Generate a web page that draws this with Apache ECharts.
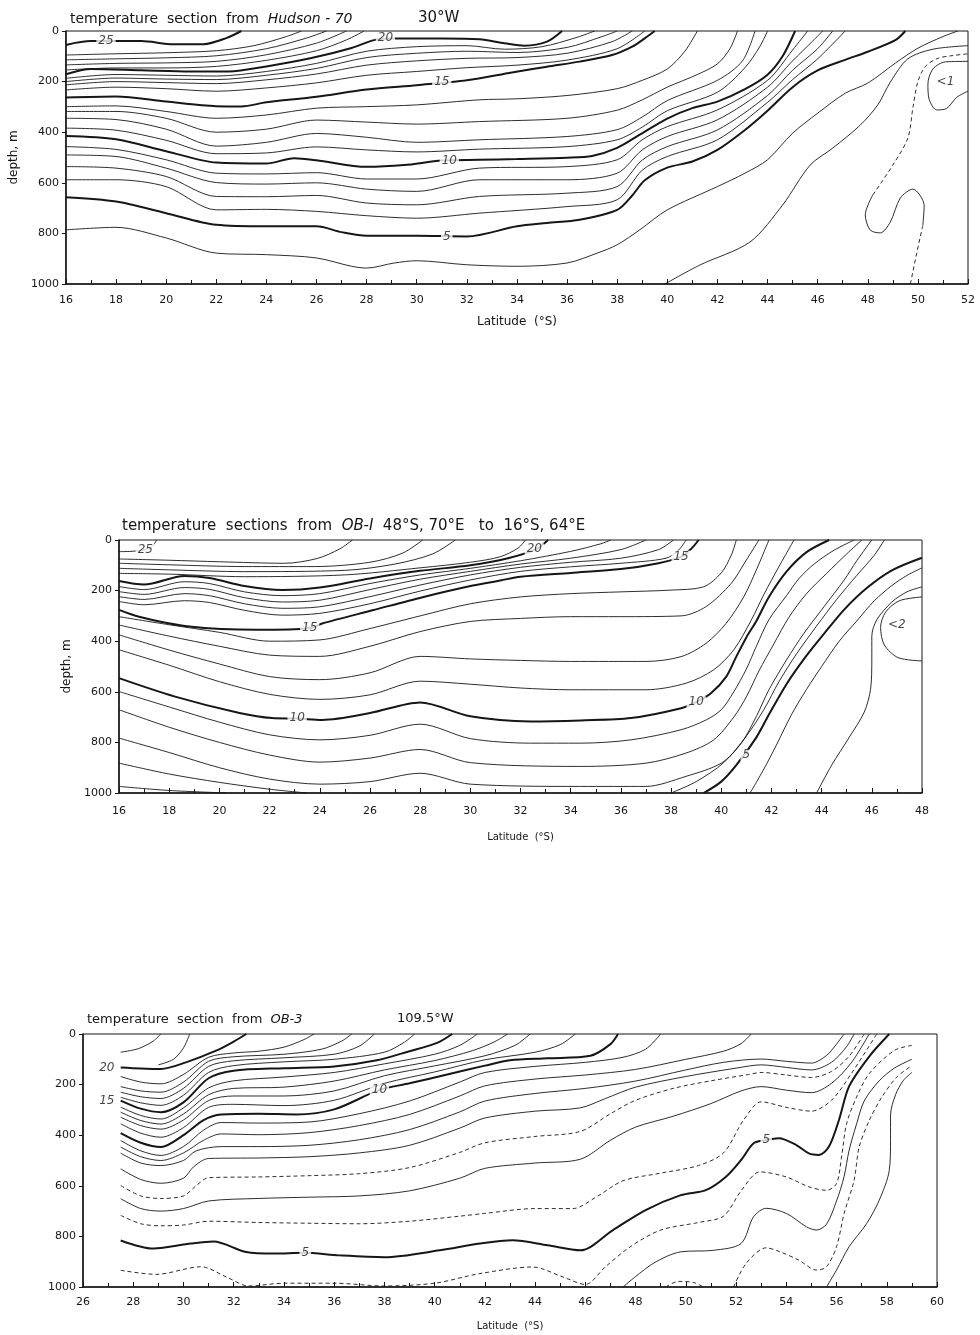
<!DOCTYPE html>
<html>
<head>
<meta charset="utf-8">
<title>temperature sections</title>
<script src="https://cdn.jsdelivr.net/npm/echarts@6/dist/echarts.min.js"></script>
<style>
html, body { margin: 0; padding: 0; background: #fff; }
#chart { width: 980px; height: 1335px; }
</style>
</head>
<body>
<div id="chart"></div>
<script>
// ===== section 1: Hudson-70, 30°W  (lat °S, depth m) =====
const h25 = [[16,55],[17,40],[19,40],[20.3,52],[21.5,52],[22.4,28],[23,0]];
const h24 = [[16,95],[18,90],[20,86],[22,78],[23.5,58],[24.8,22],[25.4,0]];
const h23 = [[16,114],[18,110],[20,106],[22,98],[24,70],[25.6,28],[26.4,0]];
const h22 = [[16,134],[18,128],[20,126],[22,120],[24,94],[26,48],[27.2,0]];
const h21 = [[16,154],[18,146],[20,146],[22,140],[24,116],[26,78],[27.2,35],[27.9,0]];
const h20 = [[16,171],[17,150],[19,155],[21,160],[22.5,160],[24,140],[25.8,107],[27.4,67],[28.3,36],[29,30],[31,30],[32.5,33],[33.5,48],[34.3,58],[35.2,42],[35.8,0]];
const h19 = [[16,187],[18,172],[20,175],[22,178],[24,160],[26,128],[28,80],[30,62],[32,58],[33.5,72],[35,62],[36.4,25],[37.1,0]];
const h18 = [[16,200],[18,186],[20,190],[22,192],[24,175],[26,148],[28,105],[30,88],[32,80],[34,85],[36,65],[37.4,22],[38,0]];
const h17 = [[16,213],[18,200],[20,204],[22,208],[24,193],[26,170],[28,135],[30,118],[32,108],[34,105],[36,88],[37.8,42],[38.6,0]];
const h16 = [[16,233],[18,222],[20,228],[22,238],[24,225],[26,205],[28,175],[30,160],[32,145],[34,135],[36,115],[38,70],[39.1,0]];
const h15 = [[16,263],[18,259],[20,279],[22,297],[23,298],[24,282],[26,260],[28,231],[30,214],[32,195],[33.8,164],[35.2,141],[36.5,121],[37.8,95],[38.6,62],[39.1,29],[39.5,0]];
const h14 = [[16,299],[18,296],[20,318],[22,345],[24,332],[26,305],[28,299],[30,292],[32.5,272],[34,268],[36,255],[38,228],[39,195],[40,150],[40.7,80],[41.2,0]];
const h13 = [[16,318],[18,318],[20,345],[22,400],[24,388],[26,352],[28,360],[30,368],[32.5,358],[36,345],[38,313],[39,272],[40,222],[41.2,172],[42,130],[42.5,70],[42.8,0]];
const h12 = [[16,345],[18,350],[20,388],[22,455],[24,440],[26,405],[28,420],[30,440],[32.5,430],[36,417],[38,390],[39,340],[40,275],[42,195],[43,118],[43.5,0]];
const h11 = [[16,384],[18,392],[20,432],[22,485],[24,482],[26,458],[28,470],[30,478],[32.5,467],[36,457],[38,430],[39,380],[40,315],[42,242],[43.1,145],[43.7,60],[44,0]];
const h10 = [[16,415],[18,428],[20,475],[22,520],[24,524],[25.1,503],[26,511],[28,537],[29.5,530],[31,512],[32.5,509],[34,506],[36,501],[37,494],[38,462],[38.9,410],[40,346],[41,305],[42,279],[43.1,230],[44,173],[44.6,100],[45.1,0]];
const h9 = [[16,457],[18,468],[20,509],[22,562],[24,565],[26,560],[28,585],[30,585],[32.5,542],[36,536],[38,509],[39,430],[40,378],[42,312],[44,195],[45,75],[45.6,0]];
const h8 = [[16,490],[18,496],[20,542],[22,599],[24,605],[26,600],[28,625],[30,634],[32.5,588],[36,588],[38,562],[39,470],[40,417],[42,351],[44,222],[45,118],[45.8,40],[46.2,0]];
const h7 = [[16,536],[18,542],[20,575],[22,654],[24,655],[26,650],[28,680],[30,687],[32.5,654],[36,641],[38,615],[39,510],[40,457],[42,391],[44,255],[45,155],[46,70],[46.6,0]];
const h6 = [[16,588],[18,588],[20,615],[22,707],[24,705],[26,713],[28,730],[30,740],[32.5,720],[36,694],[38,667],[39,550],[40,496],[42,430],[44,282],[45,192],[46,110],[47.1,0]];
const h5 = [[16,657],[18,674],[20,720],[22,766],[24,772],[26,772],[27,795],[28,809],[30,809],[32,812],[34,772],[35.2,759],[36.5,746],[38,707],[38.6,650],[39.1,590],[40,540],[41,516],[42,470],[43.1,391],[44,315],[45,222],[46,156],[47.1,114],[48,82],[49.1,36],[49.5,0]];
const h4 = [[16,786],[18,776],[20,818],[22,878],[24,884],[26,897],[27.4,930],[28,937],[29.1,917],[30,908],[32,924],[34,930],[36,917],[37.2,878],[38,845],[38.9,786],[40,707],[42,615],[43.1,562],[44,509],[45,404],[46,325],[47.1,246],[48,206],[49.1,127],[50,68],[51,22],[51.6,0]];
const h3 = [[39.9,1000],[41.3,925],[43.3,834],[44.6,688],[45.7,530],[46.6,463],[47.7,372],[48.4,292],[48.9,202],[49.6,110],[50.6,72],[52,58]];
const h2a = [[49.7,1000],[49.95,880],[50.2,767]];
const h2loop = [[50.2,767],[50.25,690],[49.8,625],[49.3,660],[48.9,755],[48.5,798],[48.1,787],[47.9,727],[48.2,648]];
const h2b = [[48.2,648],[49.0,530],[49.6,423],[49.8,304],[50.0,200],[50.3,140],[50.8,108],[51.4,97],[52,90]];
const h1loop = [[52,120],[51.1,122],[50.6,150],[50.4,210],[50.45,270],[50.75,312],[51.15,306],[51.55,262],[52,238]];
const hudThick = [h25, h20, h15, h10, h5];
const hudThin = [h24, h23, h22, h21, h19, h18, h17, h16, h14, h13, h12, h11, h9, h8, h7, h6, h4, h3, h2loop, h1loop];
const hudDash = [h2a, h2b];
const hudLabels = [[17.6,38,'25'],[28.75,29,'20'],[31.0,200,'15'],[31.3,514,'10'],[31.2,812,'5']];
const hudNotes = [[51.1,200,'<1']];

// ===== section 2: OB-1, 48°S 70°E to 16°S 64°E =====
const o25 = [[16,46],[16.6,44],[17.25,32],[17.5,0]];
const o24 = [[16,75],[18,80],[20,86],[22.6,92],[23.9,73],[24.8,35],[25.3,0]];
const o23 = [[16,92],[18,98],[21,105],[23.8,105],[26,88],[27.3,52],[28.1,0]];
const o22 = [[16,112],[18,118],[21,125],[25,120],[27,95],[28.5,55],[29.4,0]];
const o21 = [[16,132],[18,135],[21,145],[25,138],[28,110],[30,88],[31.2,66],[31.9,32],[32.2,0]];
const o20 = [[16,162],[17,176],[18.6,142],[19.6,150],[21,182],[22.5,198],[24,188],[26,152],[28,122],[30,100],[31.5,72],[32.6,37],[33.1,0]];
const o19 = [[16,184],[17,196],[18.6,165],[19.6,172],[21,205],[22.5,220],[24,212],[26,172],[28,138],[30,112],[32,82],[34,45],[35.2,15],[35.6,0]];
const o18 = [[16,204],[17,215],[18.6,188],[19.6,195],[21,228],[22.5,245],[24,238],[26,196],[28,155],[30,124],[32,95],[34,72],[36,38],[37,0]];
const o17 = [[16,224],[17,235],[18.6,212],[19.6,220],[21,252],[22.5,270],[24,264],[26,224],[28,178],[30,138],[32,108],[34,88],[36,72],[37.5,38],[38.1,0]];
const o16 = [[16,243],[17,256],[18.6,240],[19.6,247],[21,278],[22.5,297],[24,290],[26,252],[28,202],[30,158],[32,124],[34,106],[36,92],[37.8,72],[38.3,40],[38.6,0]];
const o15 = [[16,276],[16.8,303],[18.8,342],[21.5,355],[23.6,349],[24.1,330],[26.1,278],[28.1,226],[30.1,180],[31.2,160],[32,145],[34,130],[36,115],[37.5,92],[38.4,66],[38.8,35],[39.1,0]];
const o14 = [[16,303],[18,335],[20,365],[22,400],[24,395],[26,350],[28,300],[30,252],[32,225],[34,212],[36,205],[38,198],[39.3,185],[40,130],[40.4,60],[40.6,0]];
const o13 = [[16,336],[18,380],[20,420],[22,455],[24,460],[26,420],[28,362],[30,322],[32,310],[34,303],[36,303],[38.4,300],[39.4,263],[40.4,171],[41,79],[41.5,0]];
const o12 = [[16,375],[18,435],[20,490],[22,540],[24,552],[26,525],[28,460],[30,470],[32,476],[34,480],[37,480],[38.4,461],[39.4,408],[40.2,329],[40.9,224],[41.4,118],[41.9,0]];
const o11 = [[16,434],[18,495],[20,560],[22,610],[24,630],[26,612],[28,558],[30,570],[32,585],[34,592],[37,592],[38.6,566],[39.7,513],[40.5,434],[41.2,316],[41.7,215],[42.3,105],[42.9,0]];
const o10 = [[16,546],[18.2,618],[20.8,684],[22.1,704],[23.1,706],[24.1,711],[26,684],[28,642],[30,697],[32.4,717],[34.4,713],[36.4,704],[38.4,665],[39,641],[39.6,605],[40.2,540],[40.6,461],[41,385],[41.4,320],[41.9,225],[42.6,125],[43.4,48],[44.3,0]];
const o9 = [[16,599],[18,660],[20,720],[22,770],[24,790],[26,772],[28,728],[30,785],[32.4,803],[34.4,803],[36.4,790],[38.4,750],[39.4,711],[40,671],[40.5,600],[41,510],[41.4,420],[41.9,315],[42.6,220],[43.1,152],[43.7,95],[44.5,40],[45.3,0]];
const o8 = [[16,671],[18,740],[20,800],[22,850],[24,878],[26,862],[28,828],[30,880],[34.4,895],[37,882],[38.6,842],[39.7,790],[40.5,700],[41,620],[41.5,518],[42.1,410],[42.7,305],[43.4,212],[44.2,132],[45,55],[45.6,0]];
const o7 = [[16,783],[18,840],[20,900],[22,945],[24,965],[26,955],[28,922],[30,965],[34.4,974],[37,974],[38.6,934],[40,882],[40.8,803],[41.4,697],[41.9,592],[42.6,474],[43.3,368],[44.1,263],[44.9,158],[45.4,82],[46,0]];
const o6a = [[16,882],[18,925],[20,958],[22,985],[23.5,1000]];
const o6b = [[38,1000],[39,955],[40.1,880],[41,775],[41.7,670],[42.3,560],[43,450],[43.8,340],[44.6,235],[45.4,140],[46.1,60],[46.5,0]];
const o5a = [[16,974],[18,990],[20.3,1000]];
const o5b = [[39.3,1000],[40,955],[40.6,890],[41.4,780],[41.9,690],[42.6,570],[43.3,470],[44.1,370],[44.9,275],[45.8,190],[46.8,120],[48,70]];
const o4 = [[41.15,1000],[41.7,905],[42.2,810],[42.8,690],[43.4,590],[44,500],[44.7,400],[45.4,320],[46.1,240],[46.8,180],[47.4,140],[48,110]];
const o3 = [[43.8,1000],[44.4,890],[45.1,780],[45.7,680],[45.95,590],[46.0,470],[46.0,380],[46.2,315],[46.8,245],[47.4,205],[48,185]];
const o2loop = [[48,225],[47.1,240],[46.55,285],[46.35,345],[46.5,415],[47.05,465],[48,478]];
const obThick = [o20, o15, o10, o5b];
const obThin = [o25, o24, o23, o22, o21, o19, o18, o17, o16, o14, o13, o12, o11, o9, o8, o7, o6a, o6b, o5a, o4, o3, o2loop];
const obLabels = [[17.05,40,'25'],[32.55,37,'20'],[23.6,349,'15'],[38.4,66,'15'],[23.1,705,'10'],[39.0,641,'10'],[41.0,850,'5']];
const obNotes = [[47.0,336,'<2']];

// ===== section 3: OB-3, 109.5°W =====
const b21 = [[27.5,72],[28.2,58],[28.8,28],[29.1,0]];
const b20arc = [[29.0,122],[29.6,100],[30.0,55],[30.25,0]];
const b20 = [[27.5,132],[28.3,136],[29.1,138],[30.1,112],[31.3,66],[32,30],[32.5,0]];
const b19 = [[27.5,168],[28.3,190],[29.1,197],[30,160],[31,92],[32,75],[33,68],[34,52],[34.8,22],[35.2,0]];
const b18 = [[27.5,208],[28.3,225],[29.1,230],[30,190],[31,108],[32,90],[34,80],[35.5,60],[36.3,28],[36.7,0]];
const b17 = [[27.5,230],[28.3,248],[29.1,255],[30,215],[31,128],[32,106],[34,94],[36,80],[37,48],[37.6,0]];
const b16 = [[27.5,250],[28.3,272],[29.1,282],[30,242],[31,152],[32,125],[34,110],[36,100],[38,72],[38.8,32],[39.2,0]];
const b15 = [[27.5,263],[28.3,295],[29.1,309],[30,270],[31,175],[32,145],[34,135],[36,128],[37.7,104],[39,68],[40.1,35],[40.7,0]];
const b14 = [[27.5,289],[28.3,322],[29.1,336],[30,292],[31,213],[32,185],[34,170],[36,152],[38,118],[40,80],[41,45],[41.7,0]];
const b13 = [[27.5,309],[28.3,342],[29.1,356],[30,316],[31,240],[32,215],[34,210],[36,186],[38,142],[40,105],[41.5,66],[42.4,30],[42.9,0]];
const b12 = [[27.5,329],[28.3,362],[29.1,376],[30,340],[31,263],[32,245],[34,245],[36,225],[38,165],[40,126],[42,86],[43.2,45],[43.8,0]];
const b11 = [[27.5,355],[28.3,392],[29.1,408],[30,370],[31,290],[32,278],[34,283],[36,262],[38,195],[40,150],[42,102],[44,72],[45,42],[45.6,0]];
const b10 = [[27.5,392],[28.3,430],[29.1,447],[30,400],[30.8,340],[31.5,318],[33,315],[34.5,318],[36,298],[37.8,221],[39,195],[40.5,160],[42,125],[43,104],[44.5,96],[46.2,86],[47,40],[47.3,0]];
const bP1 = [[27.5,421],[28.3,462],[29.1,480],[30,445],[30.8,380],[31.5,350],[33,352],[35,348],[37,315],[39,265],[41,190],[42,152],[44,128],[46,112],[47.5,92],[48.4,60],[49,0]];
const bP2 = [[27.5,447],[28.3,485],[29.1,500],[30,470],[30.8,420],[31.5,395],[33,398],[35,390],[37,362],[39,318],[41,245],[42,205],[44,178],[46,162],[48,140],[50,100],[51.5,68],[52.2,38],[52.6,0]];
const bP3 = [[27.5,471],[28.3,510],[29.1,520],[30,500],[30.5,462],[31.5,445],[33,445],[35,440],[37,418],[39,378],[41,308],[42,265],[44,235],[46,215],[48,186],[50,142],[51.5,112],[53,99],[54,108],[55,115],[55.6,85],[56,40],[56.3,0]];
const bP4 = [[27.5,533],[28.3,575],[29.1,590],[30,570],[30.4,525],[31,492],[33,490],[35,485],[37,470],[39,440],[41,372],[42,332],[44,305],[45.8,292],[46.8,255],[48,210],[50,168],[52,135],[53,122],[54,132],[55,142],[55.8,112],[56.4,50],[56.7,0]];
const bP5 = [[27.5,599],[28.3,640],[29.1,650],[30,640],[30.5,600],[31,568],[33,565],[35,560],[37,552],[39,528],[41,468],[42,430],[44,405],[45.8,385],[47,315],[48,262],[49.5,215],[51,185],[52.5,160],[53,152],[54,162],[55,172],[55.8,148],[56.5,88],[57.1,0]];
const bP6 = [[27.5,651],[28.3,690],[29.1,700],[30,690],[31,660],[33,650],[35,645],[37,640],[39,620],[41,570],[42,531],[44,510],[45.8,495],[47,420],[48,368],[49.5,325],[51,275],[52.2,225],[53,208],[54,222],[55,232],[55.8,195],[56.6,112],[57.3,0]];
const bP7 = [[27.5,717],[28.3,750],[29.1,758],[30,755],[31,740],[33,745],[35,748],[37,750],[39,740],[41,720],[42,709],[44,690],[45.5,690],[46.5,640],[47.5,580],[49,550],[50.5,520],[51.5,470],[52.3,340],[53,268],[54,290],[55,305],[55.8,262],[56.6,155],[57.6,0]];
const b5 = [[27.5,816],[28.8,848],[30.3,828],[31.2,820],[32.5,862],[33.6,868],[34.8,865],[36.2,875],[38,882],[40.2,855],[41.8,828],[43.1,815],[44.5,835],[45.8,855],[47.1,775],[48.4,696],[49.8,637],[50.8,617],[51.6,564],[52.2,498],[52.7,432],[53.2,419],[53.7,412],[54.4,439],[54.9,472],[55.3,478],[55.7,445],[56.1,339],[56.5,207],[57.3,89],[58.1,0]];
const bH = [[27.5,934],[28.9,950],[30.7,920],[31.7,960],[32.6,996],[34,985],[36,985],[38,996],[40,985],[41.8,947],[43.9,921],[45.1,960],[46,990],[46.8,920],[47.8,840],[49,775],[50.5,745],[51.5,720],[52.2,620],[52.95,545],[54,565],[54.9,604],[55.6,618],[56,591],[56.2,486],[56.4,355],[56.8,249],[57.3,157],[58.3,65],[59,45]];
const bI = [[47.5,1000],[48.7,907],[49.8,861],[51.1,855],[52.2,828],[52.7,722],[53.2,689],[54,709],[54.8,762],[55.2,775],[55.6,752],[56,660],[56.3,564],[56.5,460],[56.8,355],[57.1,265],[57.7,185],[58.3,135],[59,100]];
const bJ = [[51.9,1000],[52.4,907],[53.2,845],[53.75,861],[54.5,894],[55.2,933],[55.6,920],[56,841],[56.3,710],[56.7,578],[56.9,447],[57.3,342],[57.8,250],[58.4,170],[59,125]];
const bK = [[55.6,1000],[56,933],[56.5,841],[57.2,749],[57.7,657],[58.1,539],[58.15,420],[58.15,320],[58.35,240],[58.65,185],[59,152]];
const bBump = [[49.2,1000],[49.7,978],[50.3,982],[50.7,1000]];
const ob3Thick = [b20, b15, b10, b5];
const ob3Thin = [b21, b20arc, b19, b18, b17, b16, b14, b13, b12, b11, bP1, bP2, bP3, bP4, bP6, bI, bK];
const ob3Dash = [bP5, bP7, bH, bJ, bBump];
const ob3Labels = [[37.8,221,'10'],[34.85,866,'5'],[53.2,419,'5']];
const ob3SideLabels = [[26.95,132,'20'],[26.95,263,'15']];

const FONT = 'DejaVu Sans';
const INK = '#161616';

function contourSeries(list, idx, width, dashed) {
  return list.map(function (d) {
    return {
      type: 'line', xAxisIndex: idx, yAxisIndex: idx, data: d,
      smooth: 0.3, symbol: 'none', silent: true, animation: false,
      lineStyle: { color: INK, width: width, type: dashed ? [4, 3] : 'solid' },
      z: 2
    };
  });
}

function labelSeries(list, idx, withBg) {
  return {
    type: 'scatter', xAxisIndex: idx, yAxisIndex: idx, silent: true, animation: false,
    symbolSize: 1, itemStyle: { color: 'rgba(255,255,255,0)' }, z: 5,
    data: list.map(function (a) { return { value: [a[0], a[1]], name: a[2] }; }),
    label: {
      show: true, position: 'inside', formatter: '{b}', color: INK,
      fontFamily: FONT, fontSize: 12, fontStyle: 'italic',
      backgroundColor: withBg ? '#fff' : 'transparent', padding: [0, 2]
    }
  };
}

function xAx(idx, min, max, gap, nameSize, margin) {
  return {
    type: 'value', gridIndex: idx, min: min, max: max, interval: 2,
    name: 'Latitude  (°S)', nameLocation: 'middle', nameGap: gap,
    nameTextStyle: { color: INK, fontFamily: FONT, fontSize: nameSize },
    axisLine: { show: true, onZero: false, lineStyle: { color: INK, width: 1.5 } },
    axisTick: { show: true, inside: true, length: 5, lineStyle: { color: INK } },
    minorTick: { show: true, splitNumber: 2, length: 4, lineStyle: { color: INK } },
    splitLine: { show: false },
    axisLabel: { color: INK, fontFamily: FONT, fontSize: 11, margin: margin }
  };
}

function yAx(idx, name, gap) {
  return {
    type: 'value', gridIndex: idx, min: 0, max: 1000, interval: 200, inverse: true,
    name: name, nameLocation: 'middle', nameGap: gap, nameRotate: 90,
    nameTextStyle: { color: INK, fontFamily: FONT, fontSize: 12 },
    axisLine: { show: true, onZero: false, lineStyle: { color: INK, width: 1.5 } },
    axisTick: { show: true, inside: false, length: 4, lineStyle: { color: INK } },
    splitLine: { show: false },
    axisLabel: { color: INK, fontFamily: FONT, fontSize: 11, margin: 7, formatter: function (v) { return String(v); } }
  };
}

const chart = echarts.init(document.getElementById('chart'), null, { renderer: 'canvas' });

let series = [];
series = series.concat(contourSeries(hudThin, 0, 0.9, false));
series = series.concat(contourSeries(hudDash, 0, 0.9, true));
series = series.concat(contourSeries(hudThick, 0, 2, false));
series.push(labelSeries(hudLabels, 0, true));
series.push(labelSeries(hudNotes, 0, false));

series = series.concat(contourSeries(obThin, 1, 0.9, false));
series = series.concat(contourSeries(obThick, 1, 2, false));
series.push(labelSeries(obLabels, 1, true));
series.push(labelSeries(obNotes, 1, false));

series = series.concat(contourSeries(ob3Thin, 2, 0.9, false));
series = series.concat(contourSeries(ob3Dash, 2, 0.9, true));
series = series.concat(contourSeries(ob3Thick, 2, 2, false));
series.push(labelSeries(ob3Labels, 2, true));
series.push(labelSeries(ob3SideLabels, 2, false));

function rich(size) {
  return {
    a: { fontFamily: FONT, fontSize: size, color: INK, fontWeight: 'normal' },
    i: { fontFamily: FONT, fontSize: size, color: INK, fontWeight: 'normal', fontStyle: 'italic' }
  };
}

chart.setOption({
  backgroundColor: '#fff',
  animation: false,
  title: [
    { left: 70, top: 12, padding: 0, text: '{a|temperature  section  from  }{i|Hudson - 70}', textStyle: { fontWeight: 'normal', rich: rich(14) } },
    { left: 418, top: 11, padding: 0, text: '30°W', textStyle: { fontFamily: FONT, fontSize: 15, fontWeight: 'normal', color: INK } },
    { left: 122, top: 519, padding: 0, text: '{a|temperature  sections  from  }{i|OB-I}{a|  48°S, 70°E   to  16°S, 64°E}', textStyle: { fontWeight: 'normal', rich: rich(15) } },
    { left: 87, top: 1013, padding: 0, text: '{a|temperature  section  from  }{i|OB-3}', textStyle: { fontWeight: 'normal', rich: rich(13) } },
    { left: 397, top: 1012, padding: 0, text: '109.5°W', textStyle: { fontFamily: FONT, fontSize: 13, fontWeight: 'normal', color: INK } }
  ],
  grid: [
    { left: 65, right: 12, top: 31, height: 253, show: true, borderColor: INK, borderWidth: 1, backgroundColor: 'transparent' },
    { left: 119, right: 58, top: 540, height: 253, show: true, borderColor: INK, borderWidth: 1, backgroundColor: 'transparent' },
    { left: 83, right: 43, top: 1034, height: 253, show: true, borderColor: INK, borderWidth: 1, backgroundColor: 'transparent' }
  ],
  xAxis: [
    xAx(0, 16, 52, 32, 12, 11),
    xAx(1, 16, 48, 39, 10, 13),
    xAx(2, 26, 60, 34, 10, 10)
  ],
  yAxis: [
    yAx(0, 'depth, m', 37),
    yAx(1, 'depth, m', 46),
    yAx(2, '', 40)
  ],
  series: series
});
</script>
</body>
</html>
